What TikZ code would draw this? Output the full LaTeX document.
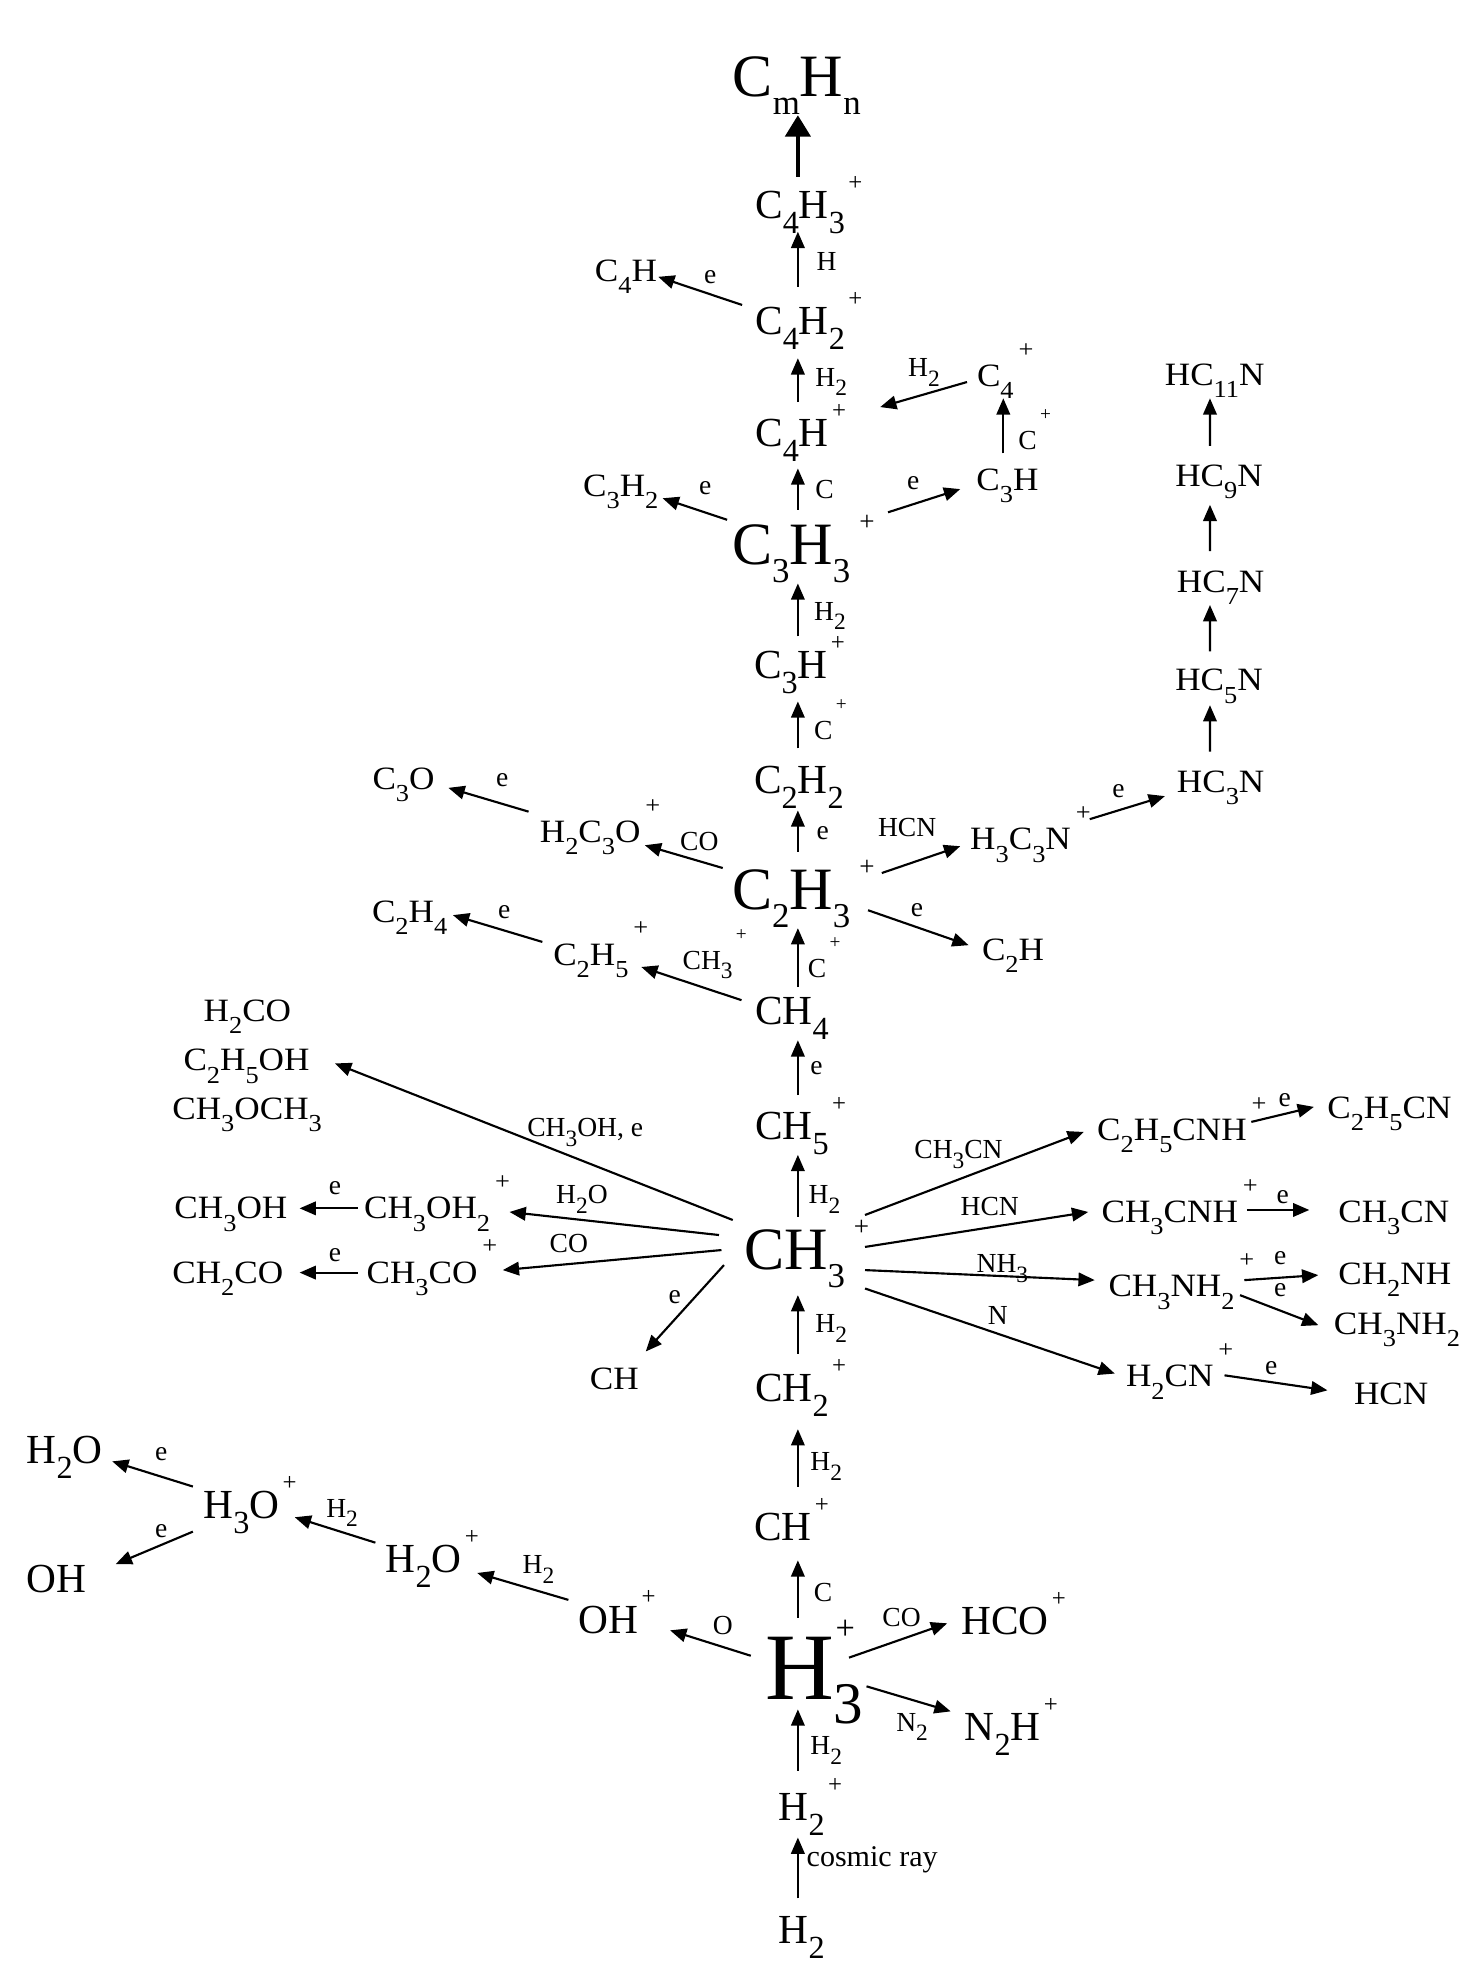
\documentclass[tikz,border=0pt]{standalone}
\usepackage{fontspec}
\setmainfont{Liberation Serif}
\newfontfamily\widefont[FakeStretch=1.08]{Liberation Serif}
\usetikzlibrary{arrows.meta,calc}
\newcommand\setch[5]{\def\chs{#1}\def\chl{#2}\def\chps{#3}\def\chpr{#4}\def\chk{#5}}
\newcommand\dn[1]{\smash{\raisebox{-\chl}{\scalebox{\chs}{#1}}}}
\newcommand\pl{\kern\chk\smash{\raisebox{\chpr}{\scalebox{\chps}{+}}}}
\newcommand\stk[1]{\rlap{\kern0.02em\smash{\raisebox{\chpr}{\scalebox{\chps}{+}}}}\dn{#1}}
\tikzset{
 every node/.style={inner sep=0pt, outer sep=0pt},
 sm/.style={anchor=west, font=\widefont\fontsize{13}{15}\selectfont\setch{0.75}{0.38em}{0.75}{0.9em}{0.15em}},
 md/.style={anchor=west, font=\fontsize{16.5}{19}\selectfont\setch{0.78}{0.36em}{0.6}{0.68em}{0.08em}},
 bg/.style={anchor=west, font=\fontsize{24}{28}\selectfont\setch{0.58}{0.3em}{0.45}{0.57em}{0.15em}},
 hg/.style={anchor=west, font=\fontsize{38}{44}\selectfont\setch{0.62}{0.25em}{0.36}{0.63em}{0.1em}},
 lb/.style={anchor=west, font=\fontsize{11}{13}\selectfont\setch{0.85}{0.35em}{0.7}{1.05em}{0.12em}},
 lc/.style={lb, anchor=center},
 arr/.style={line width=0.85pt, -{Triangle[length=6.5pt,width=5.4pt]}},
 arrbig/.style={line width=1.6pt, -{Triangle[length=8.5pt,width=10pt]}},
}
\begin{document}
\begin{tikzpicture}[x=0.5pt,y=-0.5pt]
\path[use as bounding box, fill=white] (0,0) rectangle (1181,1568);
\coordinate (sp) at (637,0);
% ---------- spine ----------
\node[bg] (cmhn) at (585,61) {C\dn{m}H\dn{n}};
\node[md] (c4h3) at (603,163.5) {C\dn{4}H\dn{3}\pl};
\node[md] (c4h2) at (603,256) {C\dn{4}H\dn{2}\pl};
\node[md] (c4hp) at (603,346) {C\dn{4}H\pl};
\node[bg] (c3h3) at (584.4,435) {C\dn{3}H\dn{3}\pl};
\node[md] (c3hp) at (602,531) {C\dn{3}H\pl};
\node[md] (c2h2) at (602,623) {C\dn{2}H\dn{2}};
\node[bg] (c2h3) at (584.4,710.7) {C\dn{2}H\dn{3}\pl};
\node[md] (ch4) at (603,807) {CH\dn{4}};
\node[md] (ch5) at (603,899) {CH\dn{5}\pl};
\node[bg] (ch3) at (594,998) {CH\dn{3}\pl};
\node[md] (ch2) at (603,1108) {CH\dn{2}\pl};
\node[md] (chp) at (602,1219.2) {CH\pl};
\node[hg] (h3p) at (610.8,1332) {H\stk{3}};
\node[md] (h2p) at (621.8,1443) {H\dn{2}\pl};
\node[md] (h2) at (621.8,1541) {H\dn{2}};
% ---------- top side ----------
\node[sm] (c4h) at (475,216) {C\dn{4}H};
\node[sm] (c4plus) at (780,300) {C\dn{4}\pl};
\node[sm] (c3h) at (779.5,383) {C\dn{3}H};
\node[sm] (c3h2) at (465.6,388) {C\dn{3}H\dn{2}};
\node[sm] (hc11n) at (930,299) {HC\dn{11}N};
\node[sm] (hc9n) at (938.3,380) {HC\dn{9}N};
\node[sm] (hc7n) at (939.6,464.6) {HC\dn{7}N};
\node[sm] (hc5n) at (938.3,543) {HC\dn{5}N};
\node[sm] (hc3n) at (939.6,624) {HC\dn{3}N};
\node[sm] (h3c3n) at (774.6,670) {H\dn{3}C\dn{3}N\pl};
\node[sm] (h2c3o) at (431,664) {H\dn{2}C\dn{3}O\pl};
\node[sm] (c3o) at (297.4,621.5) {C\dn{3}O};
\node[sm] (c2h) at (784,758) {C\dn{2}H};
\node[sm] (c2h5) at (441.7,762) {C\dn{2}H\dn{5}\pl};
\node[sm] (c2h4) at (297,728) {C\dn{2}H\dn{4}};
% ---------- CH3+ left ----------
\node[sm] (h2co) at (162.6,807) {H\dn{2}CO};
\node[sm] (c2h5oh) at (146.5,846.4) {C\dn{2}H\dn{5}OH};
\node[sm] (ch3och3) at (137.6,885) {CH\dn{3}OCH\dn{3}};
\node[sm] (ch3oh2) at (290.7,964.7) {CH\dn{3}OH\dn{2}\pl};
\node[sm] (ch3oh) at (139.3,964.7) {CH\dn{3}OH};
\node[sm] (ch3co) at (292.7,1016) {CH\dn{3}CO\pl};
\node[sm] (ch2co) at (137.6,1016) {CH\dn{2}CO};
\node[sm] (ch) at (471,1101) {CH};
% ---------- CH3+ right ----------
\node[sm] (c2h5cnh) at (876,902) {C\dn{2}H\dn{5}CNH\pl};
\node[sm] (c2h5cn) at (1059.7,884.4) {C\dn{2}H\dn{5}CN};
\node[sm] (ch3cnh) at (879.5,967.6) {CH\dn{3}CNH\pl};
\node[sm] (ch3cn) at (1068.5,967.6) {CH\dn{3}CN};
\node[sm] (ch3nh2p) at (885,1026.8) {CH\dn{3}NH\dn{2}\pl};
\node[sm] (ch2nh) at (1068.5,1016.7) {CH\dn{2}NH};
\node[sm] (ch3nh2) at (1065,1057) {CH\dn{3}NH\dn{2}};
\node[sm] (h2cn) at (899,1098.6) {H\dn{2}CN\pl};
\node[sm] (hcn) at (1081,1112.6) {HCN};
% ---------- H3+ side ----------
\node[md] (h2o) at (21.3,1157.5) {H\dn{2}O};
\node[md] (oh) at (21.3,1261) {OH};
\node[md] (h3o) at (162.5,1201.8) {H\dn{3}O\pl};
\node[md] (h2op) at (308,1245) {H\dn{2}O\pl};
\node[md] (ohp) at (462,1293) {OH\pl};
\node[md] (hco) at (767.4,1294.5) {HCO\pl};
\node[md] (n2h) at (770.3,1379) {N\dn{2}H\pl};
% ---------- labels ----------
\node[lb] (l1) at (652,209) {H};
\node[lb] (l2) at (651,301) {H\dn{2}};
\node[lc] (l3) at (567,221) {e};
\node[lb] (l4) at (725,293.5) {H\dn{2}};
\node[lb] (l5) at (813,352) {C\pl};
\node[lb] (l6) at (651,391) {C};
\node[lc] (l7) at (729,386) {e};
\node[lc] (l8) at (563,390) {e};
\node[lb] (l9) at (650,488) {H\dn{2}};
\node[lb] (l10) at (650,583) {C\pl};
\node[lb] (l11) at (652,665) {e};
\node[lb] (l12) at (701,661) {HCN};
\node[lc] (l13) at (893,631.6) {e};
\node[lb] (l14) at (543,672) {CO};
\node[lc] (l15) at (401,623) {e};
\node[lc] (l16) at (732,726.7) {e};
\node[lb] (l17) at (545,766.6) {CH\dn{3}\pl};
\node[lb] (l18) at (645,773.5) {C\pl};
\node[lc] (l19) at (402.5,728) {e};
\node[lb] (l20) at (647,853) {e};
\node[lb] (l21) at (421,902) {CH\dn{3}OH, e};
\node[lb] (l22) at (645.6,954) {H\dn{2}};
\node[lb] (l23) at (444,954) {H\dn{2}O};
\node[lc] (l24) at (267.5,948.8) {e};
\node[lb] (l25) at (438.8,992.8) {CO};
\node[lc] (l26) at (267.5,1002) {e};
\node[lc] (l27) at (538.6,1035.4) {e};
\node[lb] (l28) at (730,918) {CH\dn{3}CN};
\node[lc] (l29) at (1025.7,878.4) {e};
\node[lb] (l30) at (767,963.5) {HCN};
\node[lc] (l31) at (1024,955.6) {e};
\node[lb] (l32) at (779.7,1008.8) {NH\dn{3}};
\node[lc] (l33) at (1022,1004.8) {e};
\node[lc] (l34) at (1022,1030) {e};
\node[lb] (l35) at (788.6,1050) {N};
\node[lc] (l36) at (1015,1092.6) {e};
\node[lb] (l37) at (651,1056.7) {H\dn{2}};
\node[lb] (l38) at (647,1166.7) {H\dn{2}};
\node[lc] (l39) at (128.8,1161) {e};
\node[lc] (l40) at (128.8,1222.8) {e};
\node[lb] (l41) at (260.5,1204) {H\dn{2}};
\node[lb] (l42) at (417.3,1249) {H\dn{2}};
\node[lc] (l43) at (577,1297.4) {O};
\node[lc] (l44) at (719.8,1291.7) {CO};
\node[lc] (l45) at (728.2,1375) {N\dn{2}};
\node[lb] (l46) at (649.8,1271.6) {C};
\node[lb] (l47) at (647,1393.5) {H\dn{2}};
\node[lb, font=\fontsize{12}{14}\selectfont] (l48) at (644,1485) {cosmic ray};
% ---------- spine arrows ----------
\draw[arrbig] ($(c4h3.west -| sp)+(0,-22.5)$) -- ($(cmhn.west -| sp)+(0,31)$);
\draw[arr] ($(c4h2.west -| sp)+(0,-27)$) -- ($(c4h3.west -| sp)+(0,21.5)$);
\draw[arr] ($(c4hp.west -| sp)+(0,-25)$) -- ($(c4h2.west -| sp)+(0,30)$);
\draw[arr] ($(c3h3.west -| sp)+(0,-28)$) -- ($(c4hp.west -| sp)+(0,28)$);
\draw[arr] ($(c3hp.west -| sp)+(0,-23)$) -- ($(c3h3.west -| sp)+(0,30.8)$);
\draw[arr] ($(c2h2.west -| sp)+(0,-25.5)$) -- ($(c3hp.west -| sp)+(0,29)$);
\draw[arr] ($(c2h3.west -| sp)+(0,-30.7)$) -- ($(c2h2.west -| sp)+(0,24)$);
\draw[arr] ($(ch4.west -| sp)+(0,-19)$) -- ($(c2h3.west -| sp)+(0,30.3)$);
\draw[arr] ($(ch5.west -| sp)+(0,-24.6)$) -- ($(ch4.west -| sp)+(0,23.5)$);
\draw[arr] ($(ch3.west -| sp)+(0,-26.5)$) -- ($(ch5.west -| sp)+(0,23)$);
\draw[arr] ($(ch2.west -| sp)+(0,-27.4)$) -- ($(ch3.west -| sp)+(0,36)$);
\draw[arr] ($(chp.west -| sp)+(0,-32.4)$) -- ($(ch2.west -| sp)+(0,33)$);
\draw[arr] ($(h3p.west -| sp)+(0,-40.3)$) -- ($(chp.west -| sp)+(0,26.5)$);
\draw[arr] ($(h2p.west -| sp)+(0,-29.2)$) -- ($(h3p.west -| sp)+(0,32.7)$);
\draw[arr] ($(h2.west -| sp)+(0,-25.4)$) -- ($(h2p.west -| sp)+(0,24)$);
% ---------- side arrows ----------
\draw[arr] ([shift={(-10.5,-12.5)}]c4h2.west) -- ([shift={(50.5,5)}]c4h.west);
\draw[arr] ([shift={(-8,5)}]c4plus.west) -- ([shift={(99.7,-21)}]c4hp.west);
\draw[arr] ([shift={(21.5,-21)}]c3h.west) -- ([shift={(21,18)}]c4plus.west);
\draw[arr] ([shift={(124.6,-26)}]c3h3.west) -- ([shift={(-12.9,7.5)}]c3h.west);
\draw[arr] ([shift={(-3.9,-20)}]c3h3.west) -- ([shift={(63.4,9.8)}]c3h2.west);
\draw[arr] ([shift={(26.4,-24)}]hc3n.west) -- ([shift={(27.7,20)}]hc5n.west);
\draw[arr] ([shift={(27.7,-23)}]hc5n.west) -- ([shift={(26.4,18.4)}]hc7n.west);
\draw[arr] ([shift={(26.4,-24.6)}]hc7n.west) -- ([shift={(27.7,23)}]hc9n.west);
\draw[arr] ([shift={(27.7,-24)}]hc9n.west) -- ([shift={(36,19)}]hc11n.west);
\draw[arr] ([shift={(119.6,-13.7)}]c2h3.west) -- ([shift={(-8,5.6)}]h3c3n.west);
\draw[arr] ([shift={(95.4,-16)}]h3c3n.west) -- ([shift={(-9.6,11.6)}]hc3n.west);
\draw[arr] ([shift={(-7.4,-17.7)}]c2h3.west) -- ([shift={(83.8,10.8)}]h2c3o.west);
\draw[arr] ([shift={(-9,-16)}]h2c3o.west) -- ([shift={(60.6,7.5)}]c3o.west);
\draw[arr] ([shift={(108.6,16)}]c2h3.west) -- ([shift={(-10.7,-3.4)}]c2h.west);
\draw[arr] ([shift={(-11,-8.5)}]ch4.west) -- ([shift={(70.3,10)}]c2h5.west);
\draw[arr] ([shift={(-8.7,-10)}]c2h5.west) -- ([shift={(64.6,2.6)}]c2h4.west);
\draw[arr] ([shift={(-9,-24)}]ch3.west) -- ([shift={(121,2.6)}]c2h5oh.west);
\draw[arr] ([shift={(-20,-12)}]ch3.west) -- ([shift={(116.1,2.9)}]ch3oh2.west);
\draw[arr] ([shift={(-5.1,0)}]ch3oh2.west) -- ([shift={(99.9,0)}]ch3oh.west);
\draw[arr] ([shift={(-18,0)}]ch3.west) -- ([shift={(108.7,-2)}]ch3co.west);
\draw[arr] ([shift={(-7.1,0)}]ch3co.west) -- ([shift={(101.6,0)}]ch2co.west);
\draw[arr] ([shift={(-16,12)}]ch3.west) -- ([shift={(44.5,-22)}]ch.west);
\draw[arr] ([shift={(96.6,-28)}]ch3.west) -- ([shift={(-10.7,1.7)}]c2h5cnh.west);
\draw[arr] ([shift={(123,-6.3)}]c2h5cnh.west) -- ([shift={(-10.7,-0.7)}]c2h5cn.west);
\draw[arr] ([shift={(96.6,-2.5)}]ch3.west) -- ([shift={(-10.7,0)}]ch3cnh.west);
\draw[arr] ([shift={(115.9,-1.6)}]ch3cnh.west) -- ([shift={(-23.2,-1.6)}]ch3cn.west);
\draw[arr] ([shift={(96.6,16)}]ch3.west) -- ([shift={(-11,-4.8)}]ch3nh2p.west);
\draw[arr] ([shift={(108.4,-4.8)}]ch3nh2p.west) -- ([shift={(-16,1.3)}]ch2nh.west);
\draw[arr] ([shift={(105,7.2)}]ch3nh2p.west) -- ([shift={(-12.5,1)}]ch3nh2.west);
\draw[arr] ([shift={(96.6,30.7)}]ch3.west) -- ([shift={(-9,-2)}]h2cn.west);
\draw[arr] ([shift={(78.6,-0.6)}]h2cn.west) -- ([shift={(-21.2,-2.6)}]hcn.west);
\draw[arr] ([shift={(-8.5,-15)}]h3o.west) -- ([shift={(68.3,9.2)}]h2o.west);
\draw[arr] ([shift={(-8.5,21)}]h3o.west) -- ([shift={(71.1,-12.3)}]oh.west);
\draw[arr] ([shift={(-8.3,-13.4)}]h2op.west) -- ([shift={(72.8,9.5)}]h3o.west);
\draw[arr] ([shift={(-8.2,-15.7)}]ohp.west) -- ([shift={(73,10.8)}]h2op.west);
\draw[arr] ([shift={(-11.4,-10.1)}]h3p.west) -- ([shift={(73,8.6)}]ohp.west);
\draw[arr] ([shift={(67,-8.6)}]h3p.west) -- ([shift={(-11.2,1.5)}]hco.west);
\draw[arr] ([shift={(81,14.3)}]h3p.west) -- ([shift={(-11.3,-12.7)}]n2h.west);
\end{tikzpicture}
\end{document}
